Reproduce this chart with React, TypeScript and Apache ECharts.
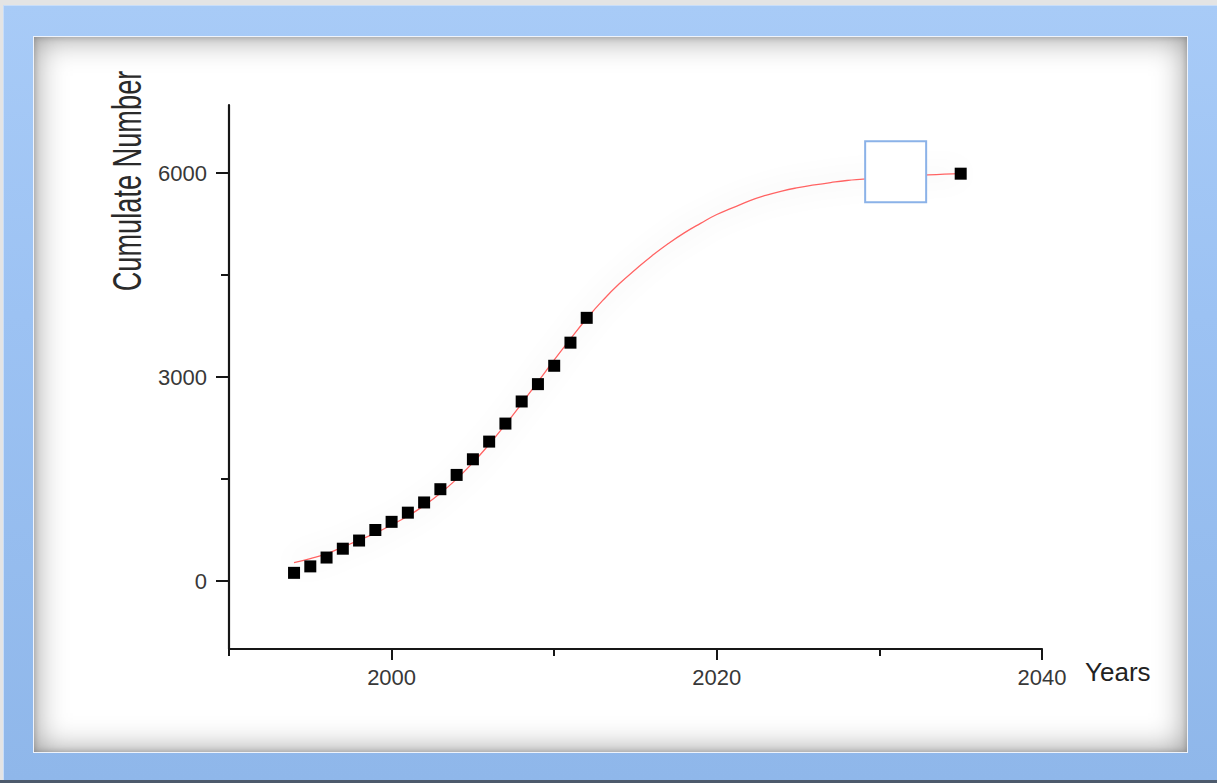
import React, { useEffect, useRef } from "react";
import * as echarts from "echarts";

// Observed data (squares)
const pointYears = [1994, 1995, 1996, 1997, 1998, 1999, 2000, 2001, 2002, 2003, 2004, 2005, 2006, 2007, 2008, 2009, 2010, 2011, 2012, 2035];
const pointValues = [120, 215, 345, 475, 595, 750, 870, 1005, 1155, 1350, 1560, 1790, 2050, 2315, 2640, 2895, 3165, 3505, 3870, 5990];

// Fitted curve (red line)
const curveYears = [1994, 1995, 1996, 1997, 1998, 1999, 2000, 2001, 2002, 2003, 2004, 2005, 2006, 2007, 2008, 2009, 2010, 2011, 2012, 2013, 2014, 2015, 2016, 2017, 2018, 2019, 2020, 2021, 2022, 2023, 2024, 2025, 2026, 2027, 2028, 2029, 2030, 2031, 2032, 2033, 2034, 2035];
const curveValues = [270, 330, 400, 500, 600, 705, 825, 955, 1110, 1290, 1500, 1740, 2010, 2300, 2610, 2930, 3250, 3560, 3860, 4130, 4370, 4580, 4780, 4960, 5120, 5260, 5390, 5490, 5590, 5670, 5735, 5785, 5825, 5860, 5890, 5910, 5930, 5945, 5960, 5972, 5982, 5990];

// Axes
const xRange = [1990, 2040];
const yRange = [-1000, 7000];
const xMajorTicks = [2000, 2020, 2040];
const xMinorTicks = [1990, 2010, 2030];
const yMajorTicks = [0, 3000, 6000];
const yMinorTicks = [1500, 4500];

// Empty annotation box sitting on the curve
const boxCenter = [2031, 6020];

const xName = "Years";
const yName = "Cumulate Number";

export default function App() {
  const ref = useRef<HTMLDivElement>(null);

  useEffect(() => {
    if (!ref.current) return;
    const chart = echarts.init(ref.current, null, { renderer: "svg" });
    const axisColor = "#161616";
    const font = "Arial, 'Liberation Sans', sans-serif";
    const glow = { shadowBlur: 24, shadowColor: "rgba(0,0,0,0.3)" };
    const tickStyle = { color: axisColor, width: 2 };
    const plain = (v: number) => String(v);

    chart.setOption({
      animation: false,
      grid: { left: 229, right: 175, top: 105, bottom: 134, containLabel: false, outerBoundsMode: "none" },
      xAxis: [
        {
          type: "value", min: xRange[0], max: xRange[1], position: "bottom",
          axisLine: { show: true, onZero: false, lineStyle: { color: axisColor, width: 2.2 } },
          axisTick: { show: true, customValues: xMajorTicks, length: 11, lineStyle: tickStyle },
          axisLabel: { show: true, customValues: xMajorTicks, formatter: plain, margin: 17, fontSize: 22, fontFamily: font, color: "#383838" },
          splitLine: { show: false },
        },
        {
          type: "value", min: xRange[0], max: xRange[1], position: "bottom",
          axisLine: { show: false, onZero: false },
          axisTick: { show: true, customValues: xMinorTicks, length: 7, lineStyle: tickStyle },
          axisLabel: { show: false },
          splitLine: { show: false },
        },
      ],
      yAxis: [
        {
          type: "value", min: yRange[0], max: yRange[1], position: "left",
          axisLine: { show: true, onZero: false, lineStyle: { color: axisColor, width: 2.2 } },
          axisTick: { show: true, customValues: yMajorTicks, length: 13, lineStyle: tickStyle },
          axisLabel: { show: true, customValues: yMajorTicks, formatter: plain, margin: 22, fontSize: 22, fontFamily: font, color: "#383838" },
          splitLine: { show: false },
        },
        {
          type: "value", min: yRange[0], max: yRange[1], position: "left",
          axisLine: { show: false, onZero: false },
          axisTick: { show: true, customValues: yMinorTicks, length: 8, lineStyle: tickStyle },
          axisLabel: { show: false },
          splitLine: { show: false },
        },
      ],
      series: [
        {
          type: "line", xAxisIndex: 0, yAxisIndex: 0,
          data: curveYears.map((y, i) => [y, curveValues[i]]),
          showSymbol: false, symbol: "none", smooth: true,
          lineStyle: { color: "#ff6464", width: 1.3, ...glow },
          z: 2, silent: true,
        },
        {
          type: "scatter", xAxisIndex: 0, yAxisIndex: 0,
          data: pointYears.map((y, i) => [y, pointValues[i]]),
          symbol: "rect", symbolSize: 12,
          itemStyle: { color: "#000000", opacity: 1 },
          z: 3, silent: true,
        },
        {
          type: "scatter", xAxisIndex: 0, yAxisIndex: 0,
          data: [boxCenter],
          symbol: "rect", symbolSize: 61,
          itemStyle: { color: "#ffffff", opacity: 1, borderColor: "#8bb2e8", borderWidth: 2 },
          z: 4, silent: true,
        },
      ],
      graphic: [
        {
          type: "text", x: 127, y: 181, rotation: Math.PI / 2, scaleX: 0.68,
          style: { text: yName, font: `40px ${font}`, fill: "#2a2a2a", align: "center", verticalAlign: "middle" },
        },
        {
          type: "text", x: 1085, y: 672,
          style: { text: xName, font: `26px ${font}`, fill: "#222222", align: "left", verticalAlign: "middle" },
        },
      ],
    });

    return () => chart.dispose();
  }, []);

  return (
    <div style={{ position: "fixed", left: 0, top: 0, width: 1217, height: 783, background: "#e4e4e4", overflow: "hidden" }}>
      <div style={{ position: "absolute", left: 3, top: 5, right: 0, bottom: 3, background: "linear-gradient(180deg, #a8cbf7 0%, #9cc2f3 40%, #8fb7ea 100%)", boxShadow: "inset 1px 1px 0 #c9def9" }} />
      <div style={{ position: "absolute", left: 0, right: 0, bottom: 0, height: 3, background: "#4d5a6c" }} />
      <div style={{ position: "absolute", left: 33, top: 36, width: 1155, height: 717, background: "#ffffff", boxSizing: "border-box", border: "1px solid #eef3fb", boxShadow: "inset 0 0 32px rgba(0,0,0,0.42), inset 0 0 6px rgba(0,0,0,0.25)" }} />
      <div ref={ref} style={{ position: "absolute", left: 0, top: 0, width: 1217, height: 783 }} />
    </div>
  );
}
